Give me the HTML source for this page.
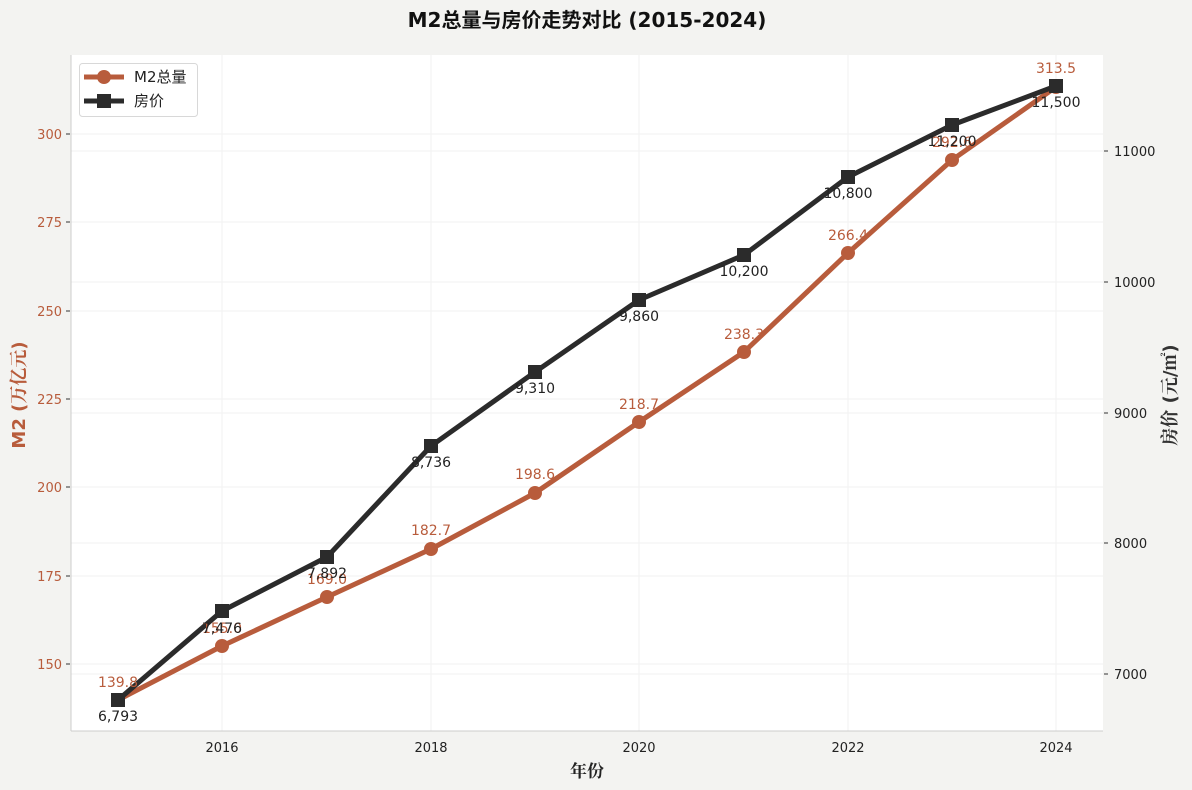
<!DOCTYPE html>
<html><head><meta charset="utf-8"><style>
html,body{margin:0;padding:0;background:#f3f3f1;}
svg{display:block;font-family:"DejaVu Sans","Noto Sans CJK SC",sans-serif;}
.ser{font-family:"DejaVu Sans","Noto Serif CJK SC",serif;}
</style></head><body>
<svg width="1192" height="790" viewBox="0 0 1192 790">
<rect width="1192" height="790" fill="#f3f3f1"/>
<rect x="71" y="55" width="1032" height="676" fill="#ffffff"/>
<g stroke="#f2f2f2" stroke-width="1">
<line x1="71" x2="1103" y1="134" y2="134"/><line x1="71" x2="1103" y1="222" y2="222"/><line x1="71" x2="1103" y1="311" y2="311"/><line x1="71" x2="1103" y1="399" y2="399"/><line x1="71" x2="1103" y1="487" y2="487"/><line x1="71" x2="1103" y1="576" y2="576"/><line x1="71" x2="1103" y1="664" y2="664"/>
<line x1="71" x2="1103" y1="151" y2="151"/><line x1="71" x2="1103" y1="282" y2="282"/><line x1="71" x2="1103" y1="413" y2="413"/><line x1="71" x2="1103" y1="543" y2="543"/><line x1="71" x2="1103" y1="674" y2="674"/>
<line y1="55" y2="731" x1="222" x2="222"/><line y1="55" y2="731" x1="431" x2="431"/><line y1="55" y2="731" x1="639" x2="639"/><line y1="55" y2="731" x1="848" x2="848"/><line y1="55" y2="731" x1="1056" x2="1056"/>
</g>
<line x1="71" y1="55" x2="71" y2="731" stroke="#cccccc"/>
<line x1="71" y1="731" x2="1103" y2="731" stroke="#cccccc"/>
<g font-size="13" fill="#b85c3c" text-anchor="end">
<text x="62" y="139">300</text><text x="62" y="227">275</text><text x="62" y="316">250</text><text x="62" y="404">225</text><text x="62" y="492">200</text><text x="62" y="581">175</text><text x="62" y="669">150</text>
</g>
<g stroke="#333" stroke-width="1"><line x1="66" x2="70" y1="134" y2="134"/><line x1="66" x2="70" y1="222" y2="222"/><line x1="66" x2="70" y1="311" y2="311"/><line x1="66" x2="70" y1="399" y2="399"/><line x1="66" x2="70" y1="487" y2="487"/><line x1="66" x2="70" y1="576" y2="576"/><line x1="66" x2="70" y1="664" y2="664"/>
<line x1="1104" x2="1108" y1="151" y2="151"/><line x1="1104" x2="1108" y1="282" y2="282"/><line x1="1104" x2="1108" y1="413" y2="413"/><line x1="1104" x2="1108" y1="543" y2="543"/><line x1="1104" x2="1108" y1="674" y2="674"/></g>
<g font-size="13" fill="#222">
<text x="1114" y="156">11000</text><text x="1114" y="287">10000</text><text x="1114" y="418">9000</text><text x="1114" y="548">8000</text><text x="1114" y="679">7000</text>
</g>
<g font-size="13" fill="#222" text-anchor="middle">
<text x="222" y="752">2016</text><text x="431" y="752">2018</text><text x="639" y="752">2020</text><text x="848" y="752">2022</text><text x="1056" y="752">2024</text>
</g>
<text class="ser" x="587" y="777" font-size="17" font-weight="bold" text-anchor="middle" fill="#222">年份</text>
<text x="587" y="27" font-size="20" font-weight="bold" text-anchor="middle" fill="#111">M2总量与房价走势对比 (2015-2024)</text>
<text class="ser" transform="translate(25,395) rotate(-90)" font-size="18" font-weight="bold" text-anchor="middle" fill="#b85c3c">M2 (万亿元)</text>
<text class="ser" transform="translate(1176,395) rotate(-90)" font-size="18" font-weight="bold" text-anchor="middle" fill="#333">房价 (元/㎡)</text>
<polyline fill="none" stroke="#b85c3c" stroke-width="5" stroke-linejoin="round" points="118,700 222,646 327,597 431,549 535,493 639,422 744,352 848,253 952,160 1056,87"/>
<g fill="#b85c3c"><circle cx="118" cy="700" r="7"/><circle cx="222" cy="646" r="7"/><circle cx="327" cy="597" r="7"/><circle cx="431" cy="549" r="7"/><circle cx="535" cy="493" r="7"/><circle cx="639" cy="422" r="7"/><circle cx="744" cy="352" r="7"/><circle cx="848" cy="253" r="7"/><circle cx="952" cy="160" r="7"/><circle cx="1056" cy="87" r="7"/></g>
<polyline fill="none" stroke="#2b2b2b" stroke-width="5" stroke-linejoin="round" points="118,700 222,611 327,557 431,446 535,372 639,300 744,255 848,177 952,125 1056,86"/>
<g fill="#2b2b2b"><rect x="111" y="693" width="14" height="14"/><rect x="215" y="604" width="14" height="14"/><rect x="320" y="550" width="14" height="14"/><rect x="424" y="439" width="14" height="14"/><rect x="528" y="365" width="14" height="14"/><rect x="632" y="293" width="14" height="14"/><rect x="737" y="248" width="14" height="14"/><rect x="841" y="170" width="14" height="14"/><rect x="945" y="118" width="14" height="14"/><rect x="1049" y="79" width="14" height="14"/></g>
<g font-size="14" fill="#b85c3c" text-anchor="middle">
<text x="118" y="687">139.8</text><text x="222" y="633">155.0</text><text x="327" y="584">169.0</text><text x="431" y="535">182.7</text><text x="535" y="479">198.6</text><text x="639" y="409">218.7</text><text x="744" y="339">238.3</text><text x="848" y="240">266.4</text><text x="952" y="147">292.6</text><text x="1056" y="73">313.5</text>
</g>
<g font-size="14" fill="#222" text-anchor="middle">
<text x="118" y="721">6,793</text><text x="222" y="633">7,476</text><text x="327" y="578">7,892</text><text x="431" y="467">8,736</text><text x="535" y="393">9,310</text><text x="639" y="321">9,860</text><text x="744" y="276">10,200</text><text x="848" y="198">10,800</text><text x="952" y="146">11,200</text><text x="1056" y="107">11,500</text>
</g>
<rect x="79.5" y="63.5" width="118" height="53" rx="3" fill="#fff" stroke="#d8d8d8"/>
<line x1="84" x2="124" y1="77" y2="77" stroke="#b85c3c" stroke-width="5"/><circle cx="104" cy="77" r="7" fill="#b85c3c"/>
<line x1="84" x2="124" y1="101" y2="101" stroke="#2b2b2b" stroke-width="5"/><rect x="97" y="94" width="14" height="14" fill="#2b2b2b"/>
<text x="134" y="82" font-size="15" fill="#222">M2总量</text>
<text x="134" y="106" font-size="15" fill="#222">房价</text>
</svg>
</body></html>
